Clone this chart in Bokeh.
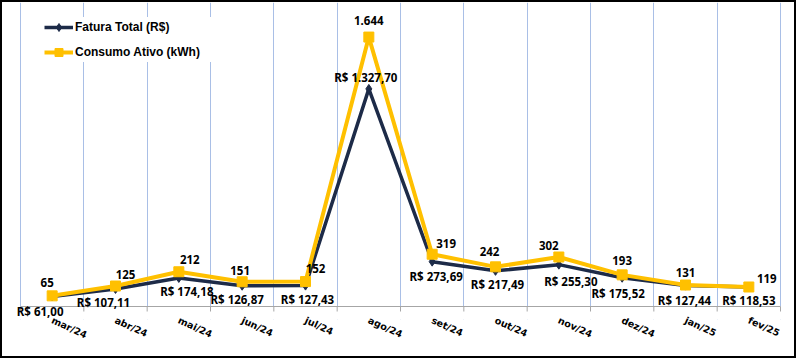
from bokeh.plotting import figure
from bokeh.layouts import column
from bokeh.models import (ColumnDataSource, LabelSet, Legend, LegendItem,
                          FixedTicker, Range1d, BoxAnnotation)
from bokeh.core.properties import value
from bokeh.embed import file_html
from bokeh.resources import INLINE

# ---- data ----
months = ["mar/24", "abr/24", "mai/24", "jun/24", "jul/24", "ago/24",
          "set/24", "out/24", "nov/24", "dez/24", "jan/25", "fev/25"]
fatura = [61.00, 107.11, 174.18, 126.87, 127.43, 1327.70,
          273.69, 217.49, 255.30, 175.52, 127.44, 118.53]
consumo = [65, 125, 212, 151, 152, 1644, 319, 242, 302, 193, 131, 119]

# label placement offsets (screen px; dy positive = downward)
fat_dx = [-12, -12, 8, -5, 2, -3, 4, 2, 12, -4, -1, 0]
fat_dy = [15, 14, 14, 14, 14, -11, 15, 14, 17, 16, 15, 13]
con_dx = [-5, 10, 11, -2, 10, 0, 14, -6, -10, 0, 0, 18]
con_dy = [-13, -12, -12, -11, -13, -17, -11, -15, -12, -14, -13, -8]


def brl(v):
    s = f"{v:,.2f}".replace(",", "X").replace(".", ",").replace("X", ".")
    return "R$ " + s


def kwh(v):
    return f"{v:,}".replace(",", ".")


NAVY = "#1D2B48"
GOLD = "#FFC000"
GRID = "#A9BFE6"
AXIS = "#A6A6A6"

idx = list(range(len(months)))
bounds = [i - 0.5 for i in range(len(months) + 1)]
src_f = ColumnDataSource(dict(x=idx, y=fatura, txt=[brl(v) for v in fatura],
                              dx=fat_dx, dy=[-d for d in fat_dy]))
src_c = ColumnDataSource(dict(x=idx, y=consumo, txt=[kwh(v) for v in consumo],
                              dx=con_dx, dy=[-d for d in con_dy]))

W, H = 792, 354          # inside a 2px border -> 796 x 358
BOTTOM = 37              # space kept below the frame for the month labels
CAT = 760 / 12           # px per category
YS = 295 / 1800          # px per unit on the value scale
x0 = -0.5 - 18 / CAT
x1 = x0 + W / CAT
y1 = 304 / YS
y0 = -((H - BOTTOM) - 304) / YS
TICK = 5 / YS

p = figure(width=W, height=H, output_backend="svg", toolbar_location=None,
           x_range=Range1d(x0, x1), y_range=Range1d(y0, y1),
           min_border_left=0, min_border_right=0, min_border_top=0,
           min_border_bottom=BOTTOM)
p.outline_line_color = None
p.background_fill_color = "white"
p.border_fill_color = "white"

# grid (vertical lines between months)
p.xgrid.ticker = FixedTicker(ticks=bounds)
p.xgrid.grid_line_color = GRID
p.xgrid.grid_line_width = 1
p.ygrid.grid_line_color = None

# hide grid below the zero line
p.add_layout(BoxAnnotation(top=0, fill_color="white", fill_alpha=1,
                           line_alpha=0, level="glyph"))

# zero line and tick marks
p.segment(x0=[bounds[0]], y0=[0], x1=[bounds[-1]], y1=[0],
          line_color=AXIS, line_width=1, level="annotation")
p.segment(x0=bounds, y0=[0] * len(bounds), x1=bounds, y1=[-TICK] * len(bounds),
          line_color=AXIS, line_width=1, level="annotation")

# axes
p.yaxis.visible = False
xa = p.xaxis[0]
xa.ticker = FixedTicker(ticks=idx)
xa.major_label_overrides = {i: m for i, m in enumerate(months)}
xa.major_tick_line_color = None
xa.major_tick_out = 0
xa.major_tick_in = 0
xa.minor_tick_line_color = None
xa.minor_tick_out = 0
xa.minor_tick_in = 0
xa.axis_line_color = None
xa.major_label_orientation = -0.43
xa.major_label_standoff = 0
xa.major_label_text_font = "DejaVu Sans"
xa.major_label_text_font_style = "bold"
xa.major_label_text_font_size = "9.5px"
xa.major_label_text_color = "#000000"

# series
lf = p.line("x", "y", source=src_f, line_color=NAVY, line_width=3.5)
mf = p.scatter("x", "y", source=src_f, marker="diamond", size=9,
               fill_color=NAVY, line_color=NAVY)
lc = p.line("x", "y", source=src_c, line_color=GOLD, line_width=4)
mc = p.scatter("x", "y", source=src_c, marker="square", size=10,
               fill_color=GOLD, line_color=GOLD)

# data labels
for src in (src_f, src_c):
    p.add_layout(LabelSet(x="x", y="y", text="txt", source=src,
                          x_offset="dx", y_offset="dy",
                          text_align="center", text_baseline="middle",
                          text_font=value("Noto Sans"), text_font_style="bold",
                          text_font_size="11.5px", text_color="#000000"))

legend = Legend(items=[LegendItem(label="Fatura Total (R$)", renderers=[lf, mf]),
                       LegendItem(label="Consumo Ativo (kWh)", renderers=[lc, mc])],
                location=(42, (H - BOTTOM) - 60), orientation="vertical",
                glyph_width=29, glyph_height=20, label_height=20,
                label_standoff=2, label_width=141, spacing=5, padding=2,
                margin=0, border_line_color=None,
                background_fill_color="white", background_fill_alpha=1,
                label_text_font="Liberation Sans", label_text_font_style="bold",
                label_text_font_size="12px", label_text_color="#000000")
p.add_layout(legend, "center")

page = column(p, styles={"border": "2px solid #000000", "background": "white"})

open("out.html", "w").write(file_html(page, INLINE))
